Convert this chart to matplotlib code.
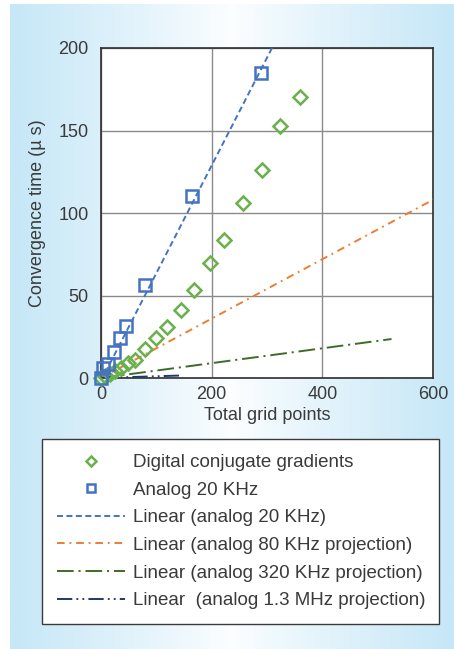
import numpy as np
import matplotlib
matplotlib.use("Agg")
import matplotlib.pyplot as plt

plt.rcParams['font.family'] = ['Liberation Sans', 'DejaVu Sans']
plt.rcParams['lines.scale_dashes'] = False

# measured points
digital_x = [0, 8, 16, 25, 37, 49, 62, 80, 100, 119, 145, 168, 197, 223, 257, 291, 324, 360]
digital_y = [0, 1, 2.4, 4.4, 6, 9, 11, 17.5, 24, 31, 41.3, 53.4, 69.7, 83.5, 105.9, 125.8, 153, 170.4]
analog_x = [0, 4, 12, 24, 35, 46, 80, 165, 289]
analog_y = [0, 6, 8.5, 15.5, 24.5, 31.6, 56.4, 110.3, 185]

# trendlines: slope, intercept, x range
trend_labels = ['Linear (analog 20 KHz)',
                'Linear (analog 80 KHz projection)',
                'Linear (analog 320 KHz projection)',
                'Linear  (analog 1.3 MHz projection)']
trend_slope = [0.653, 0.18, 0.045, 0.0105]
trend_icept = [-1.8, 0.0, 0.0, 0.0]
trend_xend = [312, 610, 525, 145]
trend_colors = ['#4472c4', '#ed7d31', '#3f6b2a', '#23386b']
trend_dashes = [(4.3, 2.5), (5.5, 3.5, 1.3, 3.5), (12, 3.5, 1.5, 3.5),
                (11, 3, 1.3, 3, 1.3, 3)]

W, H = 454, 649
fig = plt.figure(figsize=(W / 100, H / 100), dpi=100)

# background panel with horizontal gradient
bg = fig.add_axes([10 / W, 0, (W - 10) / W, (H - 4) / H], zorder=-10)
t = np.abs(np.linspace(-1, 1, 400))
edge = np.array([198, 231, 247]) / 255
white = np.array([252, 254, 255]) / 255
grad = white + (edge - white) * (t[:, None] ** 0.9)
bg.imshow(grad[None, :, :], aspect='auto', extent=[0, 1, 0, 1])
bg.axis('off')

ax = fig.add_axes([101 / W, 1 - 378 / H, 332 / W, 330 / H])
ax.set_facecolor('white')
txt = '#3a3a3a'

ax.plot(digital_x, digital_y, linestyle='none', marker='D', ms=6.8, mfc='none',
        mec='#6ab04c', mew=1.8, label='Digital conjugate gradients', zorder=4,
        clip_on=False)
ax.plot(analog_x, analog_y, linestyle='none', marker='s', ms=8.2, mfc='none',
        mec='#4472c4', mew=1.8, label='Analog 20 KHz', zorder=5, clip_on=False)

for lab, m, b, xe, c, d in zip(trend_labels, trend_slope, trend_icept, trend_xend,
                               trend_colors, trend_dashes):
    xs = np.array([0, xe])
    ax.plot(xs, m * xs + b, color=c, lw=1.4, dashes=d, label=lab, zorder=3)

ax.set_xlim(0, 600)
ax.set_ylim(0, 200)
ax.set_xticks([0, 200, 400, 600])
ax.set_yticks([0, 50, 100, 150, 200])
ax.grid(True, color='#8a8a8a', lw=1.0)
ax.set_axisbelow(True)
for s in ax.spines.values():
    s.set_color('#2e2e2e')
    s.set_linewidth(1.2)
ax.tick_params(length=0, labelsize=13, colors=txt)
ax.tick_params(axis='y', pad=9)
ax.tick_params(axis='x', pad=6)
ax.set_xlabel('Total grid points', fontsize=13, color=txt, labelpad=3)
ax.set_ylabel('Convergence time (\u00b5 s)', fontsize=13, color=txt, labelpad=9)

handles, labels = ax.get_legend_handles_labels()
leg = fig.legend(handles, labels, loc='upper left',
                 bbox_to_anchor=(42 / W, 0, 397 / W, 1 - 439 / H), mode='expand',
                 fontsize=13.5, frameon=True, fancybox=False, borderpad=0.8,
                 handlelength=3.65, handletextpad=0.42, labelspacing=0.56,
                 borderaxespad=0, markerscale=0.75, framealpha=1)
leg.get_frame().set_edgecolor('#3a3a3a')
leg.get_frame().set_linewidth(1.0)
for tx in leg.get_texts():
    tx.set_color(txt)

fig.savefig('out.png', dpi=100)
